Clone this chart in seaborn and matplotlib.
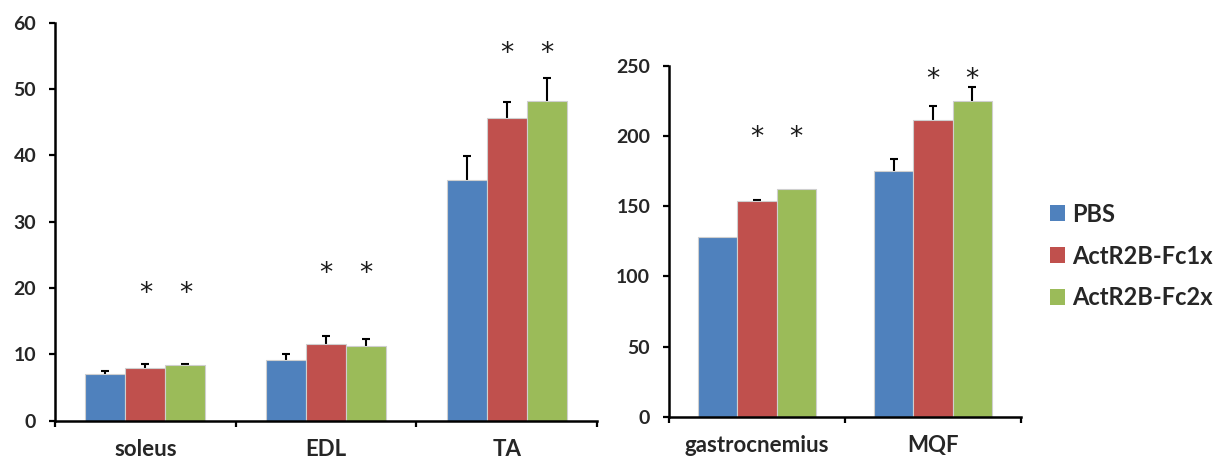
import matplotlib
matplotlib.use("Agg")
import matplotlib.pyplot as plt
import matplotlib.transforms as mtransforms
import seaborn as sns
import pandas as pd
import numpy as np
from matplotlib.patches import Patch

# ---- data ----
groups = ["PBS", "ActR2B-Fc1x", "ActR2B-Fc2x"]
colors = ["#4F81BD", "#C0504D", "#9BBB59"]

left_muscles = ["soleus", "EDL", "TA"]
left_pbs = [7.0, 9.2, 36.3]
left_fc1 = [8.0, 11.5, 45.7]
left_fc2 = [8.4, 11.2, 48.2]
left_err_pbs = [0.4, 0.9, 3.6]
left_err_fc1 = [0.6, 1.3, 2.4]
left_err_fc2 = [0.15, 1.1, 3.5]
left_star_y = [20.0, 23.0, 56.3]

right_muscles = ["gastrocnemius", "MQF"]
right_pbs = [128.0, 175.0]
right_fc1 = [153.5, 211.2]
right_fc2 = [162.2, 225.3]
right_err_pbs = [0.0, 8.6]
right_err_fc1 = [0.7, 10.0]
right_err_fc2 = [0.0, 9.5]
right_star_y = [203.0, 244.8]

left_yticks = [0, 10, 20, 30, 40, 50, 60]
right_yticks = [0, 50, 100, 150, 200, 250]

sns.set_style("white")
plt.rcParams["font.family"] = ["Lato", "DejaVu Sans"]

fig = plt.figure(figsize=(12.27, 4.61), dpi=100)
axL = fig.add_axes([55 / 1227, 1 - 420.5 / 461, (597 - 55) / 1227, (420.5 - 23) / 461])
axR = fig.add_axes([669 / 1227, 1 - 416.7 / 461, (1021 - 669) / 1227, (416.7 - 66) / 461])


def make_df(muscles, vals_list, errs_list):
    rows = []
    for g, vals, errs in zip(groups, vals_list, errs_list):
        for m, v, e in zip(muscles, vals, errs):
            rows.append({"muscle": m, "group": g, "value": v, "err": e})
    return pd.DataFrame(rows)


def draw(ax, muscles, vals_list, errs_list, star_y, yticks):
    df = make_df(muscles, vals_list, errs_list)
    sns.barplot(data=df, x="muscle", y="value", hue="group", order=muscles,
                hue_order=groups, palette=colors, width=0.665, errorbar=None,
                edgecolor="#cfcfcf", linewidth=0.8, saturation=1, ax=ax,
                legend=False, zorder=2)
    # error bars (upper only)
    for cont, g in zip(ax.containers, groups):
        sub = df[df["group"] == g].set_index("muscle").loc[muscles]
        xs = np.array([p.get_x() + p.get_width() / 2 for p in cont.patches])
        ys = sub["value"].values
        es = sub["err"].values
        m = es > 0
        ax.vlines(xs[m], ys[m], ys[m] + es[m], colors="black", linewidth=1.5,
                  zorder=1)
        ax.plot(xs[m], ys[m] + es[m], linestyle="none", marker="_",
                markersize=6, markeredgewidth=1.5, color="black", zorder=1)
    # stars above the two treatment bars
    shift = mtransforms.offset_copy(ax.transData, fig=ax.figure, x=0, y=-4.5,
                                    units="points")
    for ci in (1, 2):
        cont = ax.containers[ci]
        for p, sy in zip(cont.patches, star_y):
            ax.text(p.get_x() + p.get_width() / 2, sy, "*", ha="center",
                    va="center", fontsize=19, family="DejaVu Sans",
                    color="#1a1a1a", transform=shift)
    n = len(muscles)
    ax.set_xlim(-0.5, n - 0.5)
    ax.set_ylim(yticks[0], yticks[-1])
    ax.set_yticks(yticks)
    ax.set_xticks(range(n))
    ax.set_xticklabels(muscles)
    ax.set_xticks([i - 0.5 for i in range(n + 1)], minor=True)
    ax.tick_params(axis="x", which="major", length=0, pad=13, labelsize=16)
    ax.tick_params(axis="x", which="minor", length=4.5, width=1.6,
                   direction="out", color="black", bottom=True)
    ax.tick_params(axis="y", length=4.5, width=1.6, direction="out",
                   color="black", left=True, labelsize=14, pad=9)
    for lab in ax.get_xticklabels() + ax.get_yticklabels():
        lab.set_fontweight("bold")
    ax.set_xlabel("")
    ax.set_ylabel("")
    for s in ["top", "right"]:
        ax.spines[s].set_visible(False)
    for s in ["left", "bottom"]:
        ax.spines[s].set_color("black")
        ax.spines[s].set_linewidth(1.8)
        ax.spines[s].set_zorder(3)
    ax.set_facecolor("white")


draw(axL, left_muscles, [left_pbs, left_fc1, left_fc2],
     [left_err_pbs, left_err_fc1, left_err_fc2], left_star_y, left_yticks)
draw(axR, right_muscles, [right_pbs, right_fc1, right_fc2],
     [right_err_pbs, right_err_fc1, right_err_fc2], right_star_y, right_yticks)

handles = [Patch(facecolor=c, edgecolor="none") for c in colors]
fig.legend(handles, groups, loc="center left",
           bbox_to_anchor=(1050 / 1227, 1 - 256 / 461), frameon=False,
           prop={"family": "Lato", "weight": "bold", "size": 17},
           handlelength=0.65, handleheight=0.65, handletextpad=0.3,
           labelspacing=0.8, borderpad=0, borderaxespad=0)

fig.savefig("out.png", dpi=100, facecolor="white")
